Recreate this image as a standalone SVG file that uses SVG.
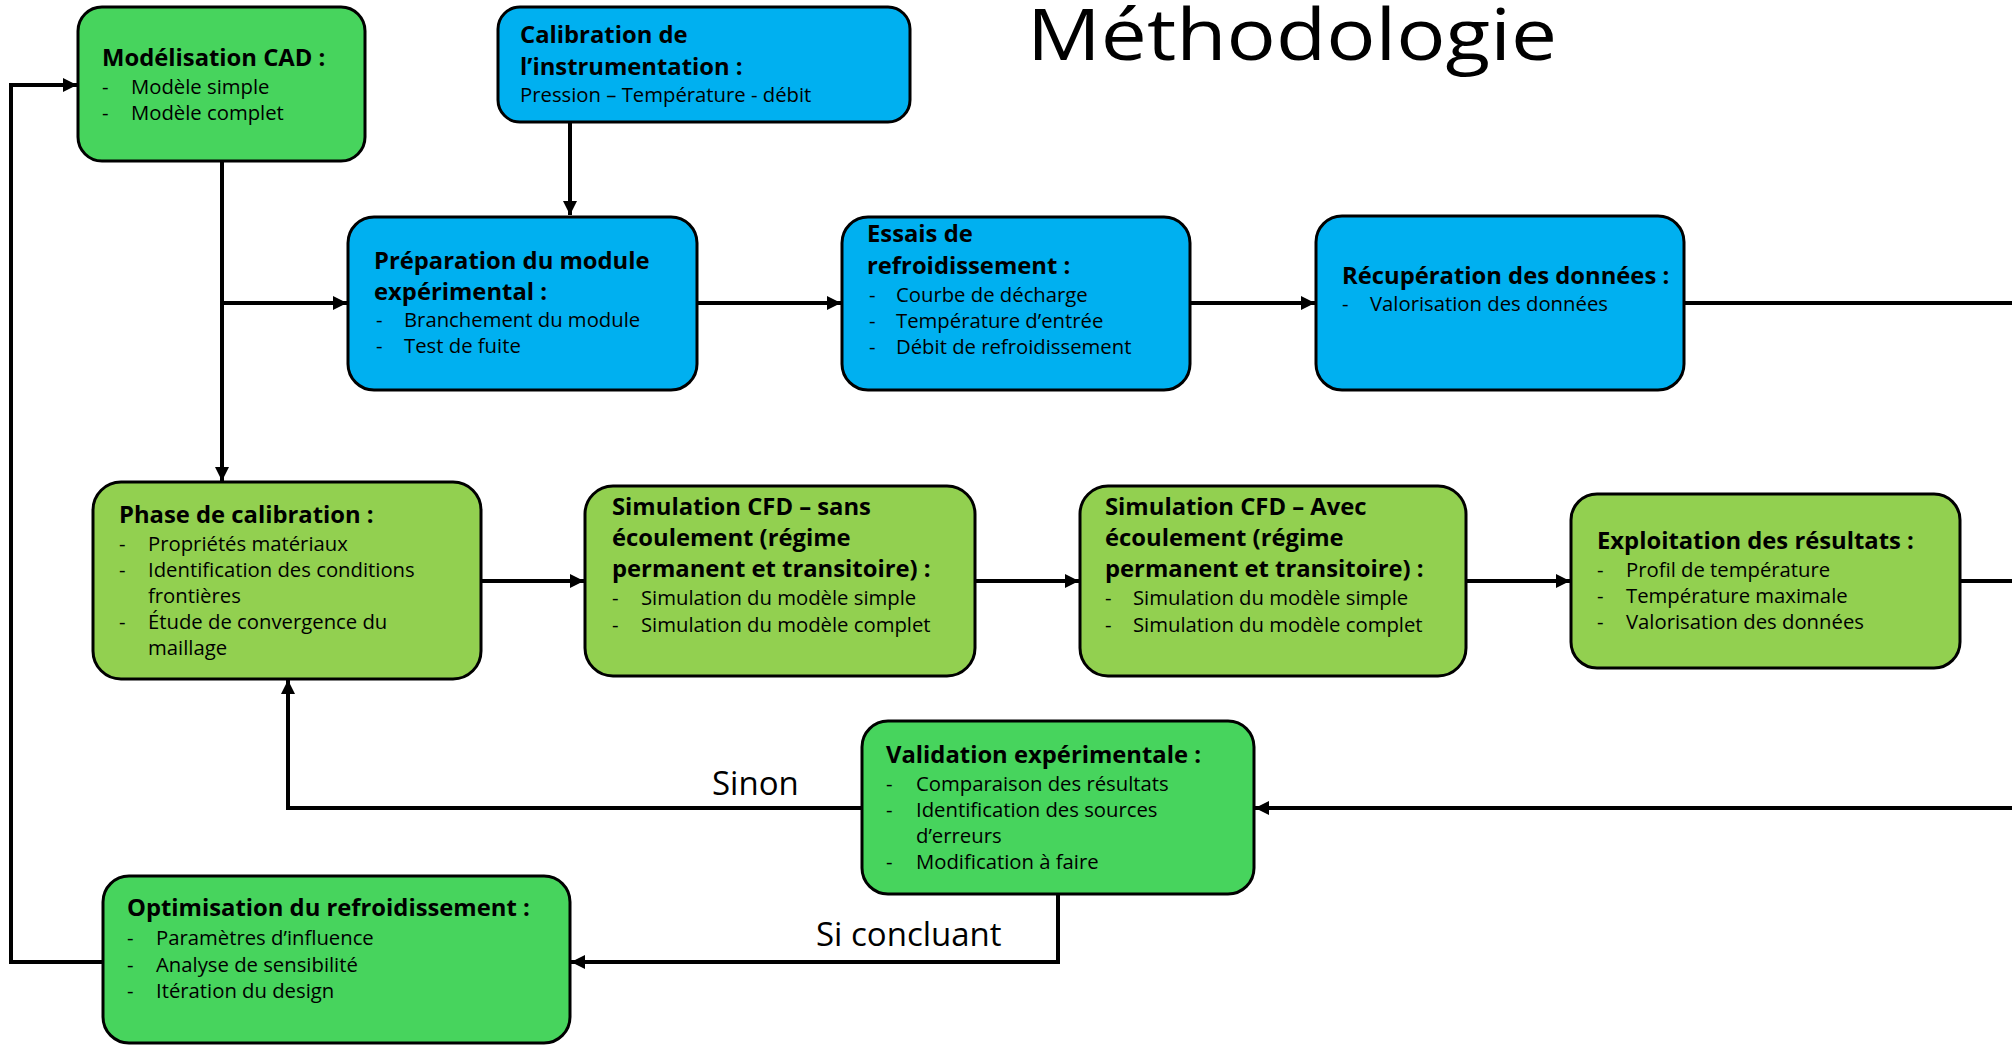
<svg xmlns="http://www.w3.org/2000/svg" width="2012" height="1046" viewBox="0 0 2012 1046">
<style>
.box{stroke:#000;stroke-width:3}
.g1{fill:#47D45D}
.g2{fill:#92D050}
.bl{fill:#00B0F0}
.t{font-family:"Open Sans","Liberation Sans",sans-serif;font-weight:bold;font-size:23.8px;fill:#000}
.i{font-family:"Open Sans","Liberation Sans",sans-serif;font-size:20.3px;fill:#000}
.lbl{font-family:"Open Sans","Liberation Sans",sans-serif;font-size:33px;fill:#000}
.ttl{font-family:"Open Sans","Liberation Sans",sans-serif;font-size:72px;fill:#000}
.c{fill:none;stroke:#000;stroke-width:4}
</style>
<defs>
<marker id="ah" viewBox="0 0 14 14" refX="14" refY="7" markerWidth="14" markerHeight="14" markerUnits="userSpaceOnUse" orient="auto">
<path d="M0,0 L14,7 L0,14 z" fill="#000"/>
</marker>
</defs>
<rect width="2012" height="1046" fill="#fff"/>
<text class="ttl" x="1027" y="60" textLength="530" lengthAdjust="spacingAndGlyphs">Méthodologie</text>

<g id="connectors">
<path class="c" d="M570,122 V215" marker-end="url(#ah)"/>
<path class="c" d="M222,161 V481" marker-end="url(#ah)"/>
<path class="c" d="M222,303 H347" marker-end="url(#ah)"/>
<path class="c" d="M697,303 H841" marker-end="url(#ah)"/>
<path class="c" d="M1190,303 H1315" marker-end="url(#ah)"/>
<path class="c" d="M1684,303 H2012"/>
<path class="c" d="M481,581 H584" marker-end="url(#ah)"/>
<path class="c" d="M975,581 H1079" marker-end="url(#ah)"/>
<path class="c" d="M1466,581 H1570" marker-end="url(#ah)"/>
<path class="c" d="M1960,581 H2012"/>
<path class="c" d="M2012,808 H1255" marker-end="url(#ah)"/>
<path class="c" d="M862,808 H288 V680" marker-end="url(#ah)"/>
<path class="c" d="M1058,894 V962 H571" marker-end="url(#ah)"/>
<path class="c" d="M103,962 H11 V85 H77" marker-end="url(#ah)"/>
<text class="lbl" x="712" y="795">Sinon</text>
<text class="lbl" x="816" y="946">Si concluant</text>
</g>

<g id="cad">
<rect class="box g1" x="78" y="7" width="287" height="154" rx="24"/>
<text class="t" x="102" y="66">Modélisation CAD :</text>
<text class="i" x="102" y="94">-</text><text class="i" x="131" y="94">Modèle simple</text>
<text class="i" x="102" y="120">-</text><text class="i" x="131" y="120">Modèle complet</text>
</g>

<g id="calibration-instr">
<rect class="box bl" x="498" y="7" width="412" height="115" rx="22"/>
<text class="t" x="520" y="43">Calibration de</text>
<text class="t" x="520" y="75">l’instrumentation :</text>
<text class="i" x="520" y="102">Pression – Température - débit</text>
</g>

<g id="preparation">
<rect class="box bl" x="348" y="217" width="349" height="173" rx="26"/>
<text class="t" x="374" y="269">Préparation du module</text>
<text class="t" x="374" y="300">expérimental :</text>
<text class="i" x="376" y="327">-</text><text class="i" x="404" y="327">Branchement du module</text>
<text class="i" x="376" y="353">-</text><text class="i" x="404" y="353">Test de fuite</text>
</g>

<g id="essais">
<rect class="box bl" x="842" y="217" width="348" height="173" rx="26"/>
<text class="t" x="867" y="242">Essais de</text>
<text class="t" x="867" y="274">refroidissement :</text>
<text class="i" x="869" y="302">-</text><text class="i" x="896" y="302">Courbe de décharge</text>
<text class="i" x="869" y="328">-</text><text class="i" x="896" y="328">Température d’entrée</text>
<text class="i" x="869" y="354">-</text><text class="i" x="896" y="354">Débit de refroidissement</text>
</g>

<g id="recuperation">
<rect class="box bl" x="1316" y="216" width="368" height="174" rx="26"/>
<text class="t" x="1342" y="284">Récupération des données :</text>
<text class="i" x="1342" y="311">-</text><text class="i" x="1370" y="311">Valorisation des données</text>
</g>

<g id="phase-calibration">
<rect class="box g2" x="93" y="482" width="388" height="197" rx="28"/>
<text class="t" x="119" y="523">Phase de calibration :</text>
<text class="i" x="119" y="551">-</text><text class="i" x="148" y="551">Propriétés matériaux</text>
<text class="i" x="119" y="577">-</text><text class="i" x="148" y="577">Identification des conditions</text>
<text class="i" x="148" y="603">frontières</text>
<text class="i" x="119" y="629">-</text><text class="i" x="148" y="629">Étude de convergence du</text>
<text class="i" x="148" y="655">maillage</text>
</g>

<g id="sim-sans">
<rect class="box g2" x="585" y="486" width="390" height="190" rx="28"/>
<text class="t" x="612" y="515">Simulation CFD – sans</text>
<text class="t" x="612" y="546">écoulement (régime</text>
<text class="t" x="612" y="577">permanent et transitoire) :</text>
<text class="i" x="612" y="605">-</text><text class="i" x="641" y="605">Simulation du modèle simple</text>
<text class="i" x="612" y="632">-</text><text class="i" x="641" y="632">Simulation du modèle complet</text>
</g>

<g id="sim-avec">
<rect class="box g2" x="1080" y="486" width="386" height="190" rx="28"/>
<text class="t" x="1105" y="515">Simulation CFD – Avec</text>
<text class="t" x="1105" y="546">écoulement (régime</text>
<text class="t" x="1105" y="577">permanent et transitoire) :</text>
<text class="i" x="1105" y="605">-</text><text class="i" x="1133" y="605">Simulation du modèle simple</text>
<text class="i" x="1105" y="632">-</text><text class="i" x="1133" y="632">Simulation du modèle complet</text>
</g>

<g id="exploitation">
<rect class="box g2" x="1571" y="494" width="389" height="174" rx="26"/>
<text class="t" x="1597" y="549">Exploitation des résultats :</text>
<text class="i" x="1597" y="577">-</text><text class="i" x="1626" y="577">Profil de température</text>
<text class="i" x="1597" y="603">-</text><text class="i" x="1626" y="603">Température maximale</text>
<text class="i" x="1597" y="629">-</text><text class="i" x="1626" y="629">Valorisation des données</text>
</g>

<g id="validation">
<rect class="box g1" x="862" y="721" width="392" height="173" rx="26"/>
<text class="t" x="886" y="763">Validation expérimentale :</text>
<text class="i" x="886" y="791">-</text><text class="i" x="916" y="791">Comparaison des résultats</text>
<text class="i" x="886" y="817">-</text><text class="i" x="916" y="817">Identification des sources</text>
<text class="i" x="916" y="843">d’erreurs</text>
<text class="i" x="886" y="869">-</text><text class="i" x="916" y="869">Modification à faire</text>
</g>

<g id="optimisation">
<rect class="box g1" x="103" y="876" width="467" height="167" rx="26"/>
<text class="t" x="127" y="916">Optimisation du refroidissement :</text>
<text class="i" x="127" y="945">-</text><text class="i" x="156" y="945">Paramètres d’influence</text>
<text class="i" x="127" y="972">-</text><text class="i" x="156" y="972">Analyse de sensibilité</text>
<text class="i" x="127" y="998">-</text><text class="i" x="156" y="998">Itération du design</text>
</g>
</svg>
